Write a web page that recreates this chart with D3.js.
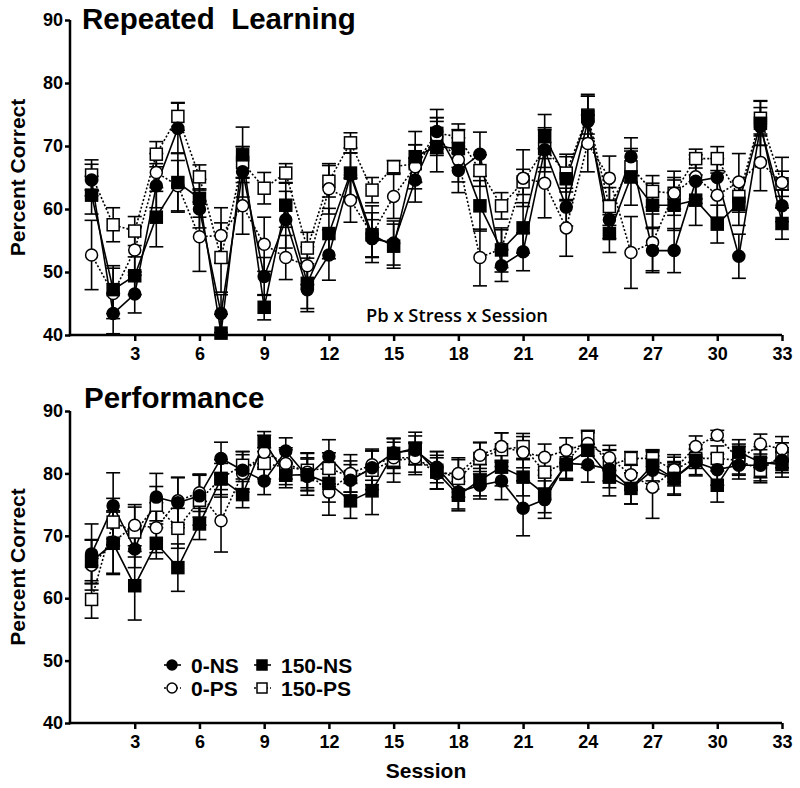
<!DOCTYPE html>
<html><head><meta charset="utf-8">
<script src="https://cdn.jsdelivr.net/npm/d3@7"></script>
<style>body{margin:0;background:#fff}svg{display:block}</style>
</head><body>
<svg id="chart" width="800" height="788"></svg>
<script>
const sessions = d3.range(1, 34);
const xTicks = [3,6,9,12,15,18,21,24,27,30,33];
const yTicks = [40,50,60,70,80,90];
const seriesNames = ["0-NS","150-NS","0-PS","150-PS"];

// Repeated Learning
const rl_0NS   = [64.6,43.4,46.5,63.7,72.8,60.0,43.4,65.9,49.3,58.3,47.2,52.7,65.4,55.3,54.6,64.6,72.3,66.1,68.7,51.0,53.2,69.4,60.3,73.9,58.3,68.3,53.4,53.4,64.4,65.0,52.5,73.1,60.5];
const rl_150NS = [62.2,47.2,49.4,58.7,64.2,61.7,40.3,68.6,44.4,60.6,48.2,56.1,65.7,55.9,54.1,68.3,69.9,69.6,60.5,53.5,57.0,71.5,64.8,74.7,56.1,65.1,60.6,60.6,61.4,57.6,60.9,73.6,57.7];
const rl_0PS   = [52.7,46.6,53.5,65.8,63.7,55.6,55.8,60.5,54.4,52.3,51.0,63.2,61.4,56.0,62.0,66.7,71.5,67.8,52.3,53.7,64.9,64.1,57.0,70.4,64.9,53.1,54.7,62.5,65.1,62.2,64.3,67.4,64.2];
const rl_150PS = [65.4,57.5,56.5,68.7,74.7,65.1,52.3,67.4,63.3,65.7,53.8,64.4,70.5,63.0,66.7,67.2,72.0,71.5,66.1,60.5,64.3,69.6,65.7,74.9,60.4,66.7,62.8,62.5,68.0,68.0,62.0,74.4,64.0];
const rl_0NS_se   = [2.5,3.2,3.0,3.5,4.0,3.0,3.0,4.0,3.0,4.5,3.5,4.0,3.5,3.0,3.5,3.5,3.5,3.5,3.5,2.5,3.0,3.5,3.0,4.0,3.0,3.0,3.5,3.5,3.5,3.0,3.5,3.0,2.5];
const rl_150NS_se = [3.0,3.8,3.0,4.7,4.7,3.0,3.0,4.4,2.0,3.5,4.0,4.0,4.0,3.5,3.5,4.0,4.0,3.0,4.0,3.5,4.0,3.5,3.5,3.5,3.0,4.5,3.5,4.0,4.0,3.0,3.5,3.5,2.5];
const rl_0PS_se   = [5.5,4.0,3.5,3.0,4.0,5.5,4.4,4.5,4.3,3.5,3.0,4.0,3.5,4.5,3.5,3.5,3.0,3.5,4.5,3.0,4.5,5.5,4.5,4.5,3.5,5.7,4.5,3.5,3.5,3.5,4.5,4.5,4.0];
const rl_150PS_se = [2.4,2.7,2.3,2.0,2.2,1.9,5.5,2.5,2.5,1.5,2.5,2.5,1.6,2.0,1.0,3.0,2.5,2.0,2.5,2.1,2.0,3.0,3.0,3.0,3.0,2.5,2.5,2.5,1.5,1.9,2.5,2.8,2.0];

// Performance
const pf_0NS   = [67.1,74.8,67.9,76.2,75.3,76.4,82.4,80.5,78.8,83.6,79.5,82.7,78.9,80.9,83.3,83.7,81.0,77.0,78.1,78.8,74.4,75.8,81.6,81.4,80.7,77.6,80.5,79.2,81.8,80.6,81.3,81.3,82.1];
const pf_150NS = [65.9,68.8,62.0,68.8,64.9,71.9,79.1,76.6,85.1,79.7,79.8,78.4,75.6,77.2,83.2,84.0,80.2,76.5,78.9,81.0,79.4,76.7,81.4,83.7,79.4,77.6,81.3,79.2,82.1,78.1,83.4,81.8,81.4];
const pf_0PS   = [65.3,69.0,71.7,71.3,75.6,76.9,72.4,80.0,83.4,81.6,80.2,77.0,80.0,81.4,82.5,82.5,80.0,80.0,82.9,84.3,83.4,82.6,83.7,84.8,82.5,79.8,77.8,80.6,84.3,86.1,82.2,84.7,83.9];
const pf_150PS = [59.8,72.2,70.6,74.9,71.2,75.7,79.2,81.3,81.6,81.0,80.5,80.8,79.5,80.5,82.1,82.4,80.5,79.2,82.4,83.8,84.3,80.2,81.7,85.8,81.3,82.4,82.4,80.5,82.4,82.4,82.1,80.5,82.9];
const pf_0NS_se   = [4.8,5.3,3.0,3.8,4.0,3.4,2.6,3.0,2.2,2.1,3.0,2.7,2.5,2.7,2.3,2.3,2.5,3.0,2.2,3.0,4.4,3.0,2.5,2.8,3.0,2.5,3.0,2.7,2.0,2.5,2.2,2.5,2.0];
const pf_150NS_se = [3.5,5.0,5.5,2.5,3.8,2.5,2.5,2.1,1.6,2.0,2.5,3.0,2.8,3.8,2.4,2.6,2.7,2.2,2.5,3.0,3.0,3.0,2.5,2.8,3.0,2.5,2.5,2.5,2.5,2.7,2.0,2.5,2.0];
const pf_0PS_se   = [4.0,5.0,3.3,4.0,3.8,3.0,5.0,3.0,2.7,2.5,3.0,3.7,3.0,2.5,2.5,2.3,2.5,2.5,2.1,2.2,2.5,2.1,2.0,2.0,2.0,2.5,5.0,2.0,1.7,0.8,2.5,1.6,2.0];
const pf_150PS_se = [3.0,3.8,4.0,3.0,3.2,4.0,3.0,2.2,2.5,2.8,2.8,2.5,2.5,3.1,3.5,2.6,3.0,3.0,2.5,2.7,2.1,2.7,2.5,1.1,2.5,1.1,1.3,2.5,1.6,2.0,2.2,2.0,2.0];

const styles = {
  "0-NS":  {shape:"circle", fill:"#000", dash:null},
  "150-NS":{shape:"square", fill:"#000", dash:null},
  "0-PS":  {shape:"circle", fill:"#fff", dash:"2,2"},
  "150-PS":{shape:"square", fill:"#fff", dash:"2,2"}
};

const svg = d3.select("#chart");
const x = d3.scaleLinear().domain([0,33]).range([70,782]);
const FONT = "'Liberation Sans', Arial, Helvetica, sans-serif";

function drawMarker(g, st, cx, cy, r){
  r = r || 6;
  if (st.shape==="circle"){
    g.append("circle").attr("cx",cx).attr("cy",cy).attr("r",r)
      .attr("fill",st.fill).attr("stroke","#000").attr("stroke-width",1.5);
  } else {
    g.append("rect").attr("x",cx-r).attr("y",cy-r).attr("width",2*r).attr("height",2*r)
      .attr("fill",st.fill).attr("stroke","#000").attr("stroke-width",1.5);
  }
}

function panel(cfg){
  const y = d3.scaleLinear().domain([40,90]).range([cfg.bottom, cfg.top]);
  const g = svg.append("g");
  const series = [
    {name:"150-PS", v:cfg.data[3], se:cfg.se[3]},
    {name:"0-PS", v:cfg.data[2], se:cfg.se[2]},
    {name:"150-NS", v:cfg.data[1], se:cfg.se[1]},
    {name:"0-NS", v:cfg.data[0], se:cfg.se[0]}
  ];
  series.forEach(s=>{
    const eg = g.append("g").attr("stroke","#000").attr("stroke-width",1.6).attr("fill","none");
    sessions.forEach((d,i)=>{
      const cx = x(d), y1 = y(s.v[i]+s.se[i]), y0 = y(Math.max(40, s.v[i]-s.se[i]));
      eg.append("line").attr("x1",cx).attr("x2",cx).attr("y1",y1).attr("y2",y0);
      eg.append("line").attr("x1",cx-7).attr("x2",cx+7).attr("y1",y1).attr("y2",y1);
      if (s.v[i]-s.se[i] > 40) eg.append("line").attr("x1",cx-7).attr("x2",cx+7).attr("y1",y0).attr("y2",y0);
    });
  });
  const line = d3.line().x((d,i)=>x(sessions[i])).y(d=>y(d));
  series.forEach(s=>{
    g.append("path").attr("d",line(s.v)).attr("fill","none").attr("stroke","#000")
      .attr("stroke-width",1.6).attr("stroke-dasharray",styles[s.name].dash);
  });
  series.forEach(s=>{
    const st = styles[s.name];
    sessions.forEach((d,i)=>drawMarker(g, st, x(d), y(s.v[i])));
  });
  const ya = g.append("g").attr("transform",`translate(70,0)`)
    .call(d3.axisLeft(y).tickValues(yTicks).tickSize(5).tickSizeOuter(0).tickPadding(2));
  const xa = g.append("g").attr("transform",`translate(0,${cfg.bottom})`)
    .call(d3.axisBottom(x).tickValues(xTicks).tickSize(6).tickSizeOuter(0).tickPadding(6));
  [ya,xa].forEach(a=>{
    a.selectAll("path,line").attr("stroke","#000").attr("stroke-width",2.5);
    a.selectAll("text").attr("font-family",FONT).attr("font-weight","bold").attr("font-size",18).attr("fill","#000");
  });
  ya.select(".domain").attr("d",`M0,${cfg.bottom+1.2}V${cfg.top}`);
  xa.select(".domain").attr("d",`M${70-1.2},0H782`);
  g.append("text").attr("transform",`translate(25,${(cfg.top+cfg.bottom)/2}) rotate(-90)`)
    .attr("text-anchor","middle").attr("font-family",FONT).attr("font-weight","bold")
    .attr("font-size",21).text("Percent Correct");
  g.append("text").attr("x",cfg.titleX).attr("y",cfg.titleY).attr("font-family",FONT)
    .attr("font-weight","bold").attr("font-size",29.5).text(cfg.title);
  return {g,y};
}

const panelTop = panel({top:20, bottom:335, title:"Repeated\u00a0\u00a0Learning", titleX:82, titleY:29,
  data:[rl_0NS, rl_150NS, rl_0PS, rl_150PS], se:[rl_0NS_se, rl_150NS_se, rl_0PS_se, rl_150PS_se]});
const panelBot = panel({top:411, bottom:723, title:"Performance", titleX:84, titleY:408,
  data:[pf_0NS, pf_150NS, pf_0PS, pf_150PS], se:[pf_0NS_se, pf_150NS_se, pf_0PS_se, pf_150PS_se]});

svg.append("text").attr("x",366).attr("y",322).attr("font-family","'Open Sans', sans-serif")
  .attr("font-weight",600).attr("font-size",18).attr("textLength",182).attr("lengthAdjust","spacingAndGlyphs")
  .text("Pb x Stress x Session");

svg.append("text").attr("x",426).attr("y",778).attr("text-anchor","middle").attr("font-family",FONT)
  .attr("font-weight","bold").attr("font-size",21).text("Session");

const legend = [
  {name:"0-NS", lx:172, ly:665},
  {name:"150-NS", lx:262, ly:665},
  {name:"0-PS", lx:172, ly:688},
  {name:"150-PS", lx:262, ly:688}
];
const lg = svg.append("g");
legend.forEach(l=>{
  const st = styles[l.name];
  lg.append("line").attr("x1",l.lx-8).attr("x2",l.lx+9).attr("y1",l.ly).attr("y2",l.ly)
    .attr("stroke","#000").attr("stroke-width",1.6).attr("stroke-dasharray",st.dash);
  drawMarker(lg, st, l.lx, l.ly, 5);
  lg.append("text").attr("x",l.lx+19).attr("y",l.ly+7.5).attr("font-family",FONT)
    .attr("font-weight","bold").attr("font-size",21).text(l.name);
});
</script>
</body></html>
